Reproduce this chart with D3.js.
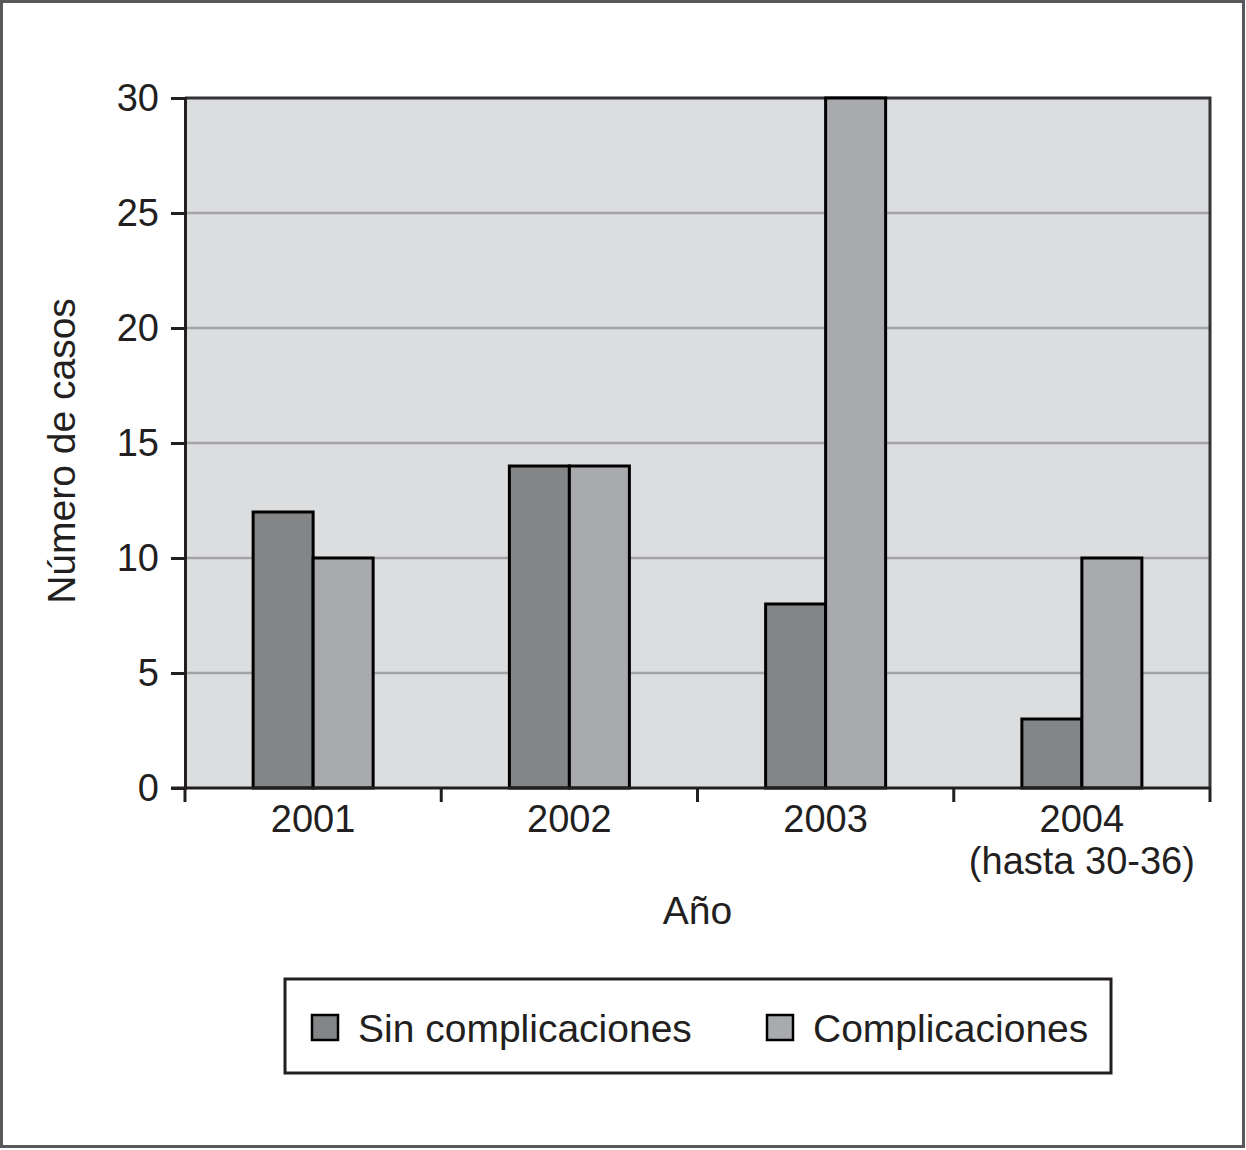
<!DOCTYPE html>
<html>
<head>
<meta charset="utf-8">
<script src="https://cdn.jsdelivr.net/npm/d3@7"></script>
<style>
    body { margin: 0; background: #fff; }
    svg text { font-family: "Liberation Sans", Arial, sans-serif; fill: #231f20; }
</style>
</head>
<body>
<svg id="chart" width="1246" height="1150"></svg>
<script>
const years = ["2001", "2002", "2003", "2004"];
const yearSub = ["", "", "", "(hasta 30-36)"];
const series = ["Sin complicaciones", "Complicaciones"];
const sinComp = [12, 14, 8, 3];
const conComp = [10, 14, 30, 10];
const yTicks = [0, 5, 10, 15, 20, 25, 30];
const colors = ["#848587", "#a9aaad"];

const svg = d3.select("#chart");
const m = { left: 185, right: 1210, top: 98, bottom: 788 };

// outer frame
svg.append("rect")
    .attr("x", 1.5).attr("y", 1.5)
    .attr("width", 1242).attr("height", 1145)
    .attr("fill", "none").attr("stroke", "#58585a").attr("stroke-width", 3);

const x = d3.scaleBand().domain(years).range([m.left, m.right]).padding(0);
const x1 = d3.scaleBand().domain(series)
    .range([x.bandwidth() / 2 - 60, x.bandwidth() / 2 + 60]);
const y = d3.scaleLinear().domain([0, 30]).range([m.bottom, m.top]);

// plot background
svg.append("rect")
    .attr("x", m.left).attr("y", m.top)
    .attr("width", m.right - m.left).attr("height", m.bottom - m.top)
    .attr("fill", "#dcdddf");

// gridlines
svg.append("g").selectAll("line")
    .data(yTicks.filter(t => t > 0 && t < 30))
    .join("line")
    .attr("x1", m.left).attr("x2", m.right)
    .attr("y1", d => y(d)).attr("y2", d => y(d))
    .attr("stroke", "#a3a4a6").attr("stroke-width", 2.5);

// top and right border
svg.append("path")
    .attr("d", `M${m.left},${m.top}H${m.right}V${m.bottom}`)
    .attr("fill", "none").attr("stroke", "#333335").attr("stroke-width", 3);

// bars
const rows = years.map((yr, i) => ({ year: yr, vals: [sinComp[i], conComp[i]] }));
const groups = svg.append("g").selectAll("g")
    .data(rows)
    .join("g")
    .attr("transform", d => `translate(${x(d.year)},0)`);

groups.selectAll("rect")
    .data(d => d.vals.map((v, j) => ({ key: series[j], v, j })))
    .join("rect")
    .attr("x", d => x1(d.key))
    .attr("y", d => y(d.v))
    .attr("width", x1.bandwidth())
    .attr("height", d => y(0) - y(d.v))
    .attr("fill", d => colors[d.j])
    .attr("stroke", "#000").attr("stroke-width", 3);

// y axis
const yAxis = svg.append("g")
    .attr("transform", `translate(${m.left},0)`)
    .call(d3.axisLeft(y).tickValues(yTicks).tickSize(14).tickPadding(12));
yAxis.select(".domain").attr("stroke", "#231f20").attr("stroke-width", 3);
yAxis.selectAll(".tick line").attr("stroke", "#231f20").attr("stroke-width", 3);
yAxis.selectAll(".tick text")
    .attr("font-size", 38).attr("font-family", "Liberation Sans, Arial, sans-serif")
    .attr("fill", "#231f20");

// x axis line and ticks at band boundaries
svg.append("line")
    .attr("x1", m.left - 14).attr("x2", m.right)
    .attr("y1", m.bottom).attr("y2", m.bottom)
    .attr("stroke", "#231f20").attr("stroke-width", 3);
const bounds = years.map(d => x(d)).concat([m.right]);
svg.append("g").selectAll("line")
    .data(bounds)
    .join("line")
    .attr("x1", d => d).attr("x2", d => d)
    .attr("y1", m.bottom).attr("y2", m.bottom + 14)
    .attr("stroke", "#231f20").attr("stroke-width", 3);

const xl = svg.append("g").selectAll("text")
    .data(years)
    .join("text")
    .attr("x", d => x(d) + x.bandwidth() / 2)
    .attr("y", 832)
    .attr("text-anchor", "middle")
    .attr("font-size", 38);
xl.append("tspan").text(d => d);
xl.append("tspan")
    .attr("x", d => x(d) + x.bandwidth() / 2)
    .attr("dy", 42)
    .text((d, i) => yearSub[i]);

// axis titles
svg.append("text")
    .attr("x", (m.left + m.right) / 2).attr("y", 924)
    .attr("text-anchor", "middle").attr("font-size", 39)
    .text("Año");
svg.append("text")
    .attr("transform", "translate(75,451) rotate(-90)")
    .attr("text-anchor", "middle").attr("font-size", 39)
    .text("Número de casos");

// legend
svg.append("rect")
    .attr("x", 285).attr("y", 979).attr("width", 826).attr("height", 94)
    .attr("fill", "#fff").attr("stroke", "#231f20").attr("stroke-width", 3);
const legX = [312, 767];
const leg = svg.append("g").selectAll("g")
    .data(series)
    .join("g")
    .attr("transform", (d, i) => `translate(${legX[i]},1015)`);
leg.append("rect")
    .attr("width", 26).attr("height", 25)
    .attr("fill", (d, i) => colors[i])
    .attr("stroke", "#000").attr("stroke-width", 2.5);
leg.append("text")
    .attr("x", 46).attr("y", 27)
    .attr("font-size", 39)
    .text(d => d);
</script>
</body>
</html>
